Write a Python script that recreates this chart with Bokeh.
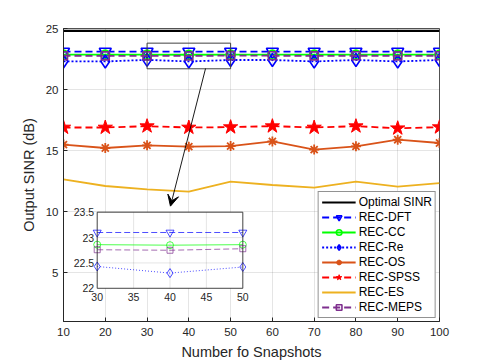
from bokeh.plotting import figure
from bokeh.models import Range1d, FixedTicker, Arrow, VeeHead, Legend, LegendItem
from bokeh.core.properties import value
from bokeh.embed import file_html
from bokeh.resources import INLINE

# ---------------- data ----------------
snapshots = [10, 20, 30, 40, 50, 60, 70, 80, 90, 100]
optimal_sinr = [24.8, 24.8, 24.8, 24.8, 24.8, 24.8, 24.8, 24.8, 24.8, 24.8]
rec_dft = [23.1, 23.1, 23.1, 23.1, 23.1, 23.1, 23.1, 23.1, 23.1, 23.1]
rec_cc = [22.86, 22.86, 22.86, 22.85, 22.86, 22.86, 22.86, 22.86, 22.86, 22.86]
rec_re = [22.3, 22.3, 22.43, 22.3, 22.42, 22.42, 22.3, 22.42, 22.3, 22.42]
rec_os = [15.49, 15.21, 15.43, 15.32, 15.37, 15.75, 15.08, 15.35, 15.89, 15.62]
rec_spss = [16.89, 16.89, 17.0, 16.89, 16.92, 17.0, 16.89, 17.0, 16.83, 16.92]
rec_es = [12.64, 12.1, 11.83, 11.64, 12.45, 12.18, 11.97, 12.45, 12.05, 12.33]
rec_meps = [22.77, 22.76, 22.76, 22.75, 22.78, 22.77, 22.76, 22.77, 22.76, 22.77]

x_ticks = [10, 20, 30, 40, 50, 60, 70, 80, 90, 100]
y_ticks = [5, 10, 15, 20, 25]
x_lim = [10, 100]
y_lim = [1, 25]

# zoom region / inset
zoom_box_x = [30, 50]
zoom_box_y = [21.7, 23.8]
inset_xlim = [30, 50]
inset_ylim = [22, 23.5]
inset_xticks = [30, 35, 40, 45, 50]
inset_yticks = [22, 22.5, 23, 23.5]
inset_xlabels = ["30", "35", "40", "45", "50"]
inset_ylabels = ["22", "22.5", "23", "23.5"]
arrow_start = [44.0, 21.72]
arrow_end = [35.6, 10.45]
# ranges that place the inset window inside the main frame
inset_xrange = [25.37, 77.02]
inset_yrange = [21.3456, 27.121]

FONT = "Liberation Sans"
AX = "#262626"

p = figure(width=485, height=363, output_backend="svg", toolbar_location=None,
           x_range=Range1d(*x_lim), y_range=Range1d(*y_lim),
           min_border_left=63, min_border_right=46, min_border_top=28, min_border_bottom=42)
p.extra_x_ranges = {"ix": Range1d(*inset_xrange)}
p.extra_y_ranges = {"iy": Range1d(*inset_yrange)}

p.outline_line_color = AX
p.outline_line_alpha = 0.8
p.background_fill_color = "white"
p.border_fill_color = "white"

for ax in (p.xaxis[0], p.yaxis[0]):
    ax.major_tick_in = 4
    ax.major_tick_out = 0
    ax.minor_tick_line_color = None
    ax.axis_line_color = AX
    ax.major_tick_line_color = AX
    ax.major_label_text_font = FONT
    ax.major_label_text_font_size = "11.5px"
    ax.major_label_text_color = AX
    ax.axis_label_text_font = FONT
    ax.axis_label_text_font_size = "14.5px"
    ax.axis_label_text_font_style = "normal"
    ax.axis_label_text_color = AX
p.xaxis.ticker = FixedTicker(ticks=x_ticks)
p.yaxis.ticker = FixedTicker(ticks=y_ticks)
p.xaxis.axis_label = "Number fo Snapshots"
p.yaxis.axis_label = "Output SINR (dB)"
p.xaxis.major_label_standoff = 6
p.xaxis.axis_label_standoff = 5
p.yaxis.major_label_standoff = 5
p.yaxis.axis_label_standoff = 6
p.xgrid.ticker = FixedTicker(ticks=x_ticks)
p.ygrid.ticker = FixedTicker(ticks=y_ticks)
p.grid.grid_line_color = AX
p.grid.grid_line_alpha = 0.12

BLUE = "#0000FF"
GREEN = "#00FF00"
ORANGE = "#D95319"
RED = "#FF0000"
YELLOW = "#EDB120"
PURPLE = "#7E2F8E"
LW = 1.8

items = []
l = p.line(snapshots, optimal_sinr, line_color="black", line_width=2.2)
items.append(LegendItem(label="Optimal SINR", renderers=[l]))

l = p.line(snapshots, rec_dft, line_color=BLUE, line_width=LW, line_dash="7 4")
s = p.scatter(snapshots, rec_dft, marker="inverted_triangle", size=12, line_color=BLUE,
              fill_color=None, line_width=1.6)
items.append(LegendItem(label="REC-DFT", renderers=[l, s]))

l = p.line(snapshots, rec_cc, line_color=GREEN, line_width=LW)
s = p.scatter(snapshots, rec_cc, marker="circle", size=9, line_color=GREEN,
              fill_color=None, line_width=1.6)
items.append(LegendItem(label="REC-CC", renderers=[l, s]))

l = p.line(snapshots, rec_re, line_color=BLUE, line_width=LW, line_dash="2 2")
s = p.scatter(snapshots, rec_re, marker="diamond", size=13, line_color=BLUE,
              fill_color=None, line_width=1.6)
items.append(LegendItem(label="REC-Re", renderers=[l, s]))

l = p.line(snapshots, rec_os, line_color=ORANGE, line_width=LW)
s = p.scatter(snapshots, rec_os, marker="asterisk", size=10, line_color=ORANGE,
              line_width=1.8)
items.append(LegendItem(label="REC-OS", renderers=[l, s]))

l = p.line(snapshots, rec_spss, line_color=RED, line_width=LW, line_dash="7 4")
s = p.scatter(snapshots, rec_spss, marker="star", size=15, line_color=RED,
              fill_color=RED)
items.append(LegendItem(label="REC-SPSS", renderers=[l, s]))

l = p.line(snapshots, rec_es, line_color=YELLOW, line_width=LW)
items.append(LegendItem(label="REC-ES", renderers=[l]))

l = p.line(snapshots, rec_meps, line_color=PURPLE, line_width=LW, line_dash="7 4")
s = p.scatter(snapshots, rec_meps, marker="square", size=8, line_color=PURPLE,
              fill_color=None, line_width=1.6)
items.append(LegendItem(label="REC-MEPS", renderers=[l, s]))

# zoom rectangle on main plot
p.quad(left=[zoom_box_x[0]], right=[zoom_box_x[1]], bottom=[zoom_box_y[0]], top=[zoom_box_y[1]],
       fill_color=None, line_color="#404040", line_width=1)

# arrow
p.add_layout(Arrow(end=VeeHead(size=11, fill_color="black", line_color="black"),
                   x_start=arrow_start[0], y_start=arrow_start[1],
                   x_end=arrow_end[0], y_end=arrow_end[1],
                   line_color="black", line_width=0.9))

# ---------------- inset ----------------
R = dict(x_range_name="ix", y_range_name="iy")
p.quad(left=[inset_xlim[0]], right=[inset_xlim[1]], bottom=[inset_ylim[0]], top=[inset_ylim[1]],
       fill_color="white", line_color=None, **R)
p.segment(x0=inset_xticks, x1=inset_xticks, y0=[inset_ylim[0]] * len(inset_xticks),
          y1=[inset_ylim[1]] * len(inset_xticks), line_color=AX, line_alpha=0.12, **R)
p.segment(x0=[inset_xlim[0]] * len(inset_yticks), x1=[inset_xlim[1]] * len(inset_yticks),
          y0=inset_yticks, y1=inset_yticks, line_color=AX, line_alpha=0.12, **R)

ix = [x for x in snapshots if inset_xlim[0] <= x <= inset_xlim[1]]
sel = [i for i, x in enumerate(snapshots) if inset_xlim[0] <= x <= inset_xlim[1]]
ILW = 1.0
IA = 0.7
p.line(ix, [rec_dft[i] for i in sel], line_color=BLUE, line_width=ILW, line_dash="6 3", line_alpha=IA, **R)
p.scatter(ix, [rec_dft[i] for i in sel], marker="inverted_triangle", size=8, line_color=BLUE,
          fill_color=None, line_alpha=IA, **R)
p.line(ix, [rec_cc[i] for i in sel], line_color=GREEN, line_width=ILW, line_alpha=IA, **R)
p.scatter(ix, [rec_cc[i] for i in sel], marker="circle", size=7, line_color=GREEN,
          fill_color=None, line_alpha=IA, **R)
p.line(ix, [rec_re[i] for i in sel], line_color=BLUE, line_width=ILW, line_dash="1 2", line_alpha=IA, **R)
p.scatter(ix, [rec_re[i] for i in sel], marker="diamond", size=9, line_color=BLUE,
          fill_color=None, line_alpha=IA, **R)
p.line(ix, [rec_meps[i] for i in sel], line_color=PURPLE, line_width=ILW, line_dash="6 3", line_alpha=IA, **R)
p.scatter(ix, [rec_meps[i] for i in sel], marker="square", size=6, line_color=PURPLE,
          fill_color=None, line_alpha=IA, **R)

p.quad(left=[inset_xlim[0]], right=[inset_xlim[1]], bottom=[inset_ylim[0]], top=[inset_ylim[1]],
       fill_color=None, line_color=AX, line_alpha=0.8, line_width=1, **R)

p.text(x=[inset_xlim[0]] * len(inset_yticks), y=inset_yticks, text=inset_ylabels,
       x_offset=-3, text_align="right", text_baseline="middle",
       text_font=value(FONT), text_font_size="10.5px", text_color=AX, **R)
p.text(x=inset_xticks, y=[inset_ylim[0]] * len(inset_xticks), text=inset_xlabels,
       y_offset=5, text_align="center", text_baseline="top",
       text_font=value(FONT), text_font_size="10.5px", text_color=AX, **R)

legend = Legend(items=items, location="bottom_right")
legend.margin = 3
legend.padding = 3
legend.spacing = 1
legend.glyph_width = 34
legend.glyph_height = 14
legend.label_height = 14
legend.label_standoff = 3
legend.label_text_font = FONT
legend.label_text_font_size = "12px"
legend.label_text_color = "black"
legend.border_line_color = AX
legend.border_line_width = 1
legend.background_fill_color = "white"
legend.background_fill_alpha = 1.0
p.add_layout(legend)

open("out.html", "w").write(file_html(p, INLINE))
